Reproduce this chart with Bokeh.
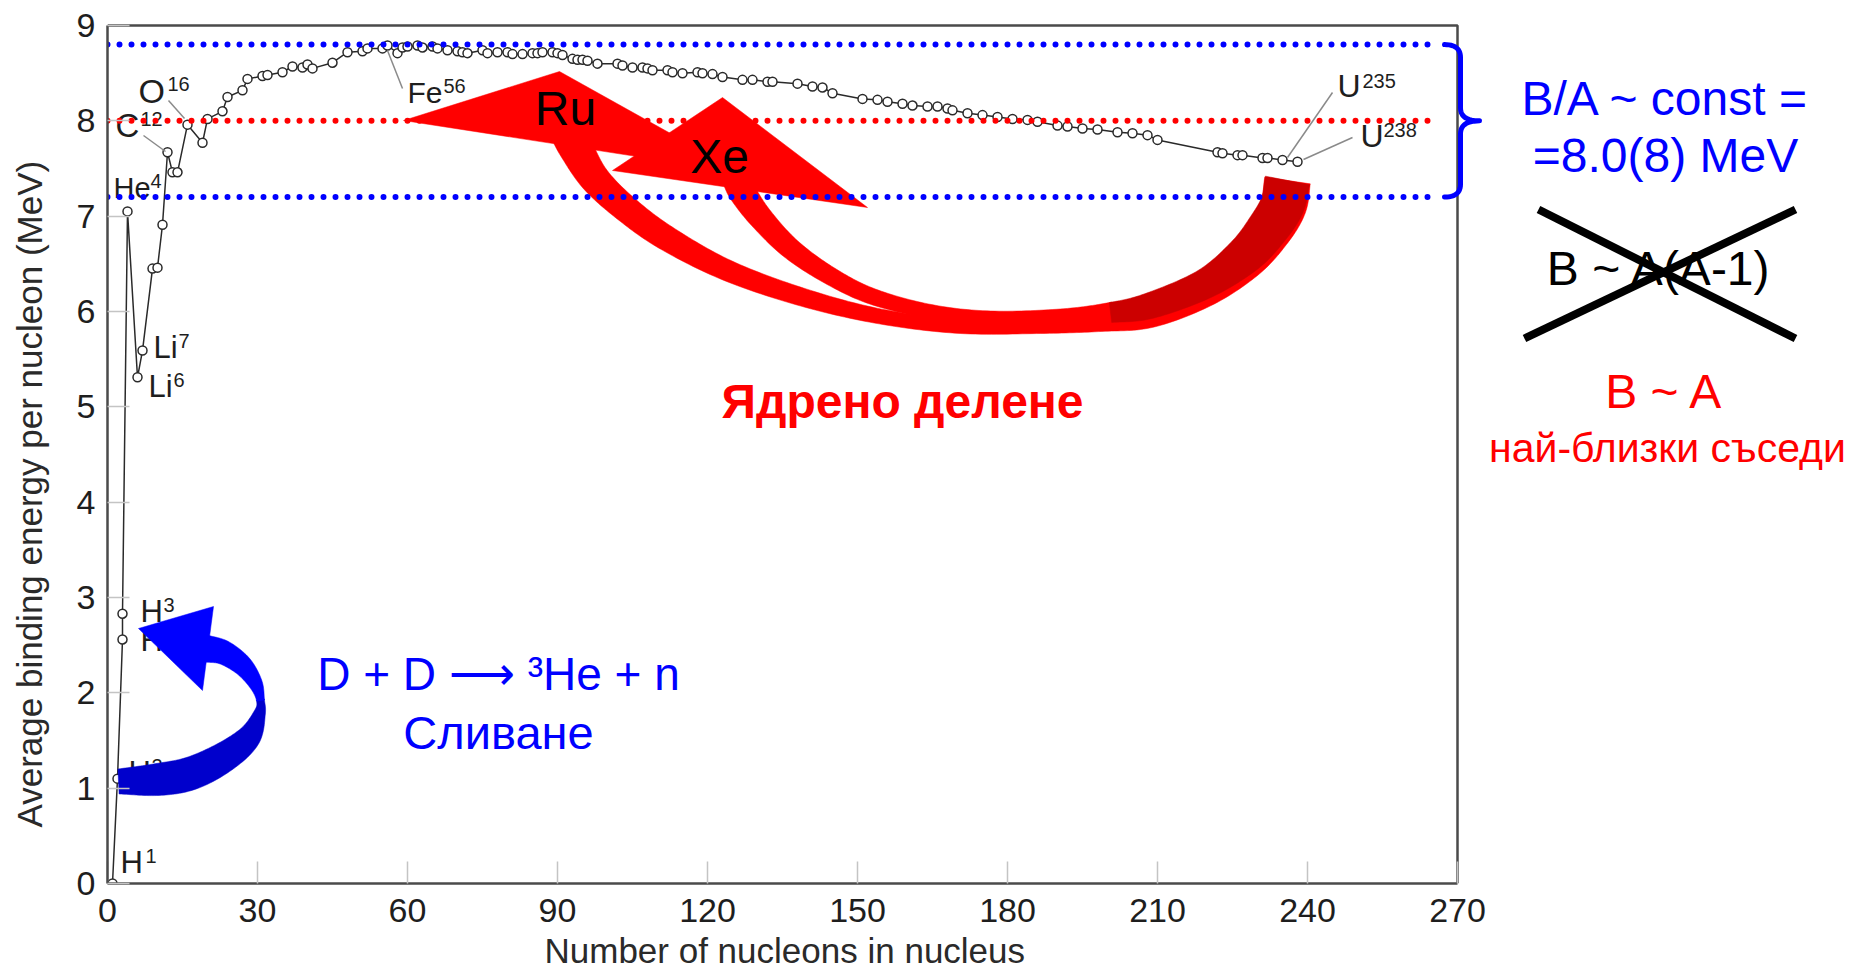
import numpy as np
from bokeh.plotting import figure
from bokeh.models import Range1d, FixedTicker, Title
from bokeh.core.properties import value
from bokeh.embed import file_html
from bokeh.resources import INLINE

# ---------------------------------------------------------------------------
# Average binding energy per nucleon (MeV) of stable nuclides vs. mass number
# ---------------------------------------------------------------------------
mass_number = [1, 2, 3, 3, 4, 6, 7, 9, 10, 11, 12, 13, 14, 16, 19, 20, 23, 24, 27, 28,
               31, 32, 35, 37, 39, 40, 41, 45, 48, 51, 52, 55, 56, 58, 59, 60, 62, 63, 65, 66,
               68, 70, 71, 72, 75, 76, 78, 80, 81, 83, 85, 86, 87, 89, 90, 91, 93, 94, 95, 96,
               98, 102, 103, 105, 107, 108, 109, 112, 113, 115, 118, 119, 121, 123, 127, 129, 132, 133, 138, 141,
               143, 145, 151, 154, 156, 159, 161, 164, 166, 168, 169, 172, 175, 178, 181, 184, 186, 190, 192, 195,
               198, 202, 205, 208, 210, 222, 223, 226, 227, 231, 232, 235, 238]
binding_energy = [0.00, 1.10, 2.56, 2.83, 7.05, 5.31, 5.59, 6.45, 6.46, 6.91, 7.67, 7.46, 7.46, 7.96, 7.77, 8.02, 8.10, 8.25, 8.32, 8.44,
                  8.47, 8.48, 8.51, 8.57, 8.56, 8.59, 8.55, 8.61, 8.72, 8.73, 8.76, 8.76, 8.79, 8.71, 8.77, 8.78, 8.79, 8.77, 8.78, 8.76,
                  8.74, 8.73, 8.72, 8.71, 8.74, 8.71, 8.72, 8.72, 8.70, 8.70, 8.71, 8.71, 8.72, 8.72, 8.71, 8.69, 8.65, 8.64, 8.64, 8.63,
                  8.60, 8.60, 8.58, 8.56, 8.56, 8.55, 8.53, 8.53, 8.51, 8.50, 8.51, 8.50, 8.49, 8.46, 8.43, 8.43, 8.41, 8.41, 8.39, 8.36,
                  8.35, 8.29, 8.23, 8.22, 8.20, 8.18, 8.16, 8.15, 8.15, 8.13, 8.11, 8.08, 8.06, 8.04, 8.02, 8.01, 7.99, 7.95, 7.94, 7.92,
                  7.91, 7.88, 7.87, 7.85, 7.80, 7.67, 7.66, 7.64, 7.64, 7.61, 7.61, 7.59, 7.57]

# labelled nuclides (symbol + mass number written as superscript)
label_symbol = ["H", "H", "H", "He", "He", "Li", "Li", "C", "O", "Fe", "U", "U"]
label_mass = ["1", "2", "3", "3", "4", "6", "7", "12", "16", "56", "235", "238"]

x_ticks = [0, 30, 60, 90, 120, 150, 180, 210, 240, 270]
y_ticks = [0, 1, 2, 3, 4, 5, 6, 7, 8, 9]

# B/A ~ const = 8.0(8) MeV : mean level and spread
ba_mean = 8.0
ba_spread = 0.8

# ---------------------------------------------------------------------------
# page geometry (pixels): axis origin and scale of the chart frame
# ---------------------------------------------------------------------------
W, H = 1874, 977
AXIS_X0, AXIS_Y0 = 107.0, 883.0        # pixel position of (A=0, E=0)
PX_PER_A = 5.0
PX_PER_MEV = 858.0 / 9.0
FRAME_L, FRAME_R, FRAME_T, FRAME_B = 107, 1864, 15, 883
BASELINE_SHIFT = 0.35                  # baseline correction, in em


def to_a(px):
    return (np.asarray(px, float) - AXIS_X0) / PX_PER_A


def to_e(py):
    return (AXIS_Y0 - np.asarray(py, float)) / PX_PER_MEV


def to_py(e):
    return AXIS_Y0 - np.asarray(e, float) * PX_PER_MEV


FONT = value("Liberation Sans")

p = figure(width=W, height=H,
           x_range=Range1d(0, float(to_a(FRAME_R))),
           y_range=Range1d(0, float(to_e(FRAME_T))),
           output_backend="svg", toolbar_location=None,
           min_border_left=FRAME_L, min_border_right=W - FRAME_R,
           min_border_top=FRAME_T, min_border_bottom=H - FRAME_B,
           background_fill_color="white", border_fill_color="white",
           outline_line_color=None)
p.grid.visible = False

for ax, ticks, bnds in ((p.xaxis[0], x_ticks, (0, 270)), (p.yaxis[0], y_ticks, (0, 9))):
    ax.ticker = FixedTicker(ticks=ticks)
    ax.bounds = bnds
    ax.axis_line_color = "#4a4a4a"
    ax.axis_line_width = 2.5
    ax.major_tick_in = 22
    ax.major_tick_out = 0
    ax.major_tick_line_color = "#c4c4c4"
    ax.major_tick_line_width = 1.5
    ax.minor_tick_line_color = None
    ax.major_label_text_font = "Liberation Sans"
    ax.major_label_text_font_size = "34px"
    ax.major_label_text_color = "#1e1e1e"
p.xaxis[0].major_label_standoff = 15
p.yaxis[0].major_label_standoff = 12
# blank spacer label: keeps room between the y tick labels and the axis title
p.yaxis[0].axis_label = " "
p.yaxis[0].axis_label_text_font_size = "1px"
p.yaxis[0].axis_label_standoff = 16

# axis titles, placed along the 0..270 and 0..9 spans
p.add_layout(Title(text="Number of nucleons in nucleus", align="left", offset=437, standoff=9,
                   text_font="Liberation Sans", text_font_size="35px", text_font_style="normal",
                   text_color="#2a2a2a"), "below")
p.add_layout(Title(text="Average binding energy per nucleon (MeV)", align="left", offset=56, standoff=10,
                   text_font="Liberation Sans", text_font_size="35px", text_font_style="normal",
                   text_color="#2a2a2a"), "left")

# top and right sides of the chart box
p.line([0, 270, 270], [9, 9, 0], line_color="#4a4a4a", line_width=2.5)

# ---------------------------------------------------------------------------
# binding-energy curve
# ---------------------------------------------------------------------------
p.line(mass_number, binding_energy, line_color="#2a2a2a", line_width=1.5)
p.scatter(mass_number, binding_energy, size=9, marker="circle",
          fill_color="white", line_color="#2a2a2a", line_width=1.5)

# leader lines of the nuclide labels (pixel layout)
leaders = [((168, 100), (184, 118)), ((143, 135), (165, 151)), ((387, 50), (402, 88)),
           ((1332, 92), (1287, 157)), ((1352, 137), (1303, 159))]
for (x0, y0), (x1, y1) in leaders:
    p.line(to_a([x0, x1]), to_e([y0, y1]), line_color="#8a8a8a", line_width=1.5)


def put_text(x, y, txt, color, size, align="left", style="normal"):
    """Text whose alphabetic baseline sits at pixel row y."""
    p.text([to_a(x)], [to_e(y - BASELINE_SHIFT * size)], text=[txt], text_font=FONT,
           text_font_size=value(f"{size}px"), text_color=color, text_align=align,
           text_baseline="alphabetic", text_font_style=style)


# label layout: symbol left/baseline, superscript left/baseline, symbol font size
label_layout = [((120, 873), (145, 862), 31), ((128, 783), (151, 772), 31),
                ((140, 622), (163, 611), 31), ((140, 651), (180, 640), 31),
                ((113, 198), (150, 187), 29), ((148, 397), (173, 386), 31),
                ((153, 358), (178, 347), 31), ((115, 137), (140, 125), 33),
                ((138, 102), (167, 90), 34), ((407, 102), (443, 92), 30),
                ((1337, 97), (1362, 87), 32), ((1360, 147), (1383, 136), 32)]
for sym, mass, ((bx, by), (sx, sy), fs) in zip(label_symbol, label_mass, label_layout):
    put_text(bx, by, sym, "#1e1e1e", fs)
    put_text(sx, sy, mass, "#1e1e1e", 20)


# ---------------------------------------------------------------------------
# curved ribbon arrows (built in pixel space, drawn in data space)
# ---------------------------------------------------------------------------
def catmull(points, n=16):
    P = np.asarray(points, float)
    P = np.vstack([2 * P[0] - P[1], P, 2 * P[-1] - P[-2]])
    t = np.linspace(0, 1, n, endpoint=False)[:, None]
    out = []
    for i in range(1, len(P) - 2):
        p0, p1, p2, p3 = P[i - 1], P[i], P[i + 1], P[i + 2]
        out.append(0.5 * (2 * p1 + (-p0 + p2) * t + (2 * p0 - 5 * p1 + 4 * p2 - p3) * t ** 2
                          + (-p0 + 3 * p1 - 3 * p2 + p3) * t ** 3))
    out.append(P[-2][None, :])
    return np.vstack(out)


def ribbon(points, widths, n=16):
    C = catmull(np.column_stack([np.asarray(points, float), np.asarray(widths, float)]), n)
    xy, w = C[:, :2], C[:, 2]
    d = np.gradient(xy, axis=0)
    d /= np.linalg.norm(d, axis=1)[:, None]
    nrm = np.column_stack([-d[:, 1], d[:, 0]])
    return xy + nrm * w[:, None] / 2, xy - nrm * w[:, None] / 2


def draw_band(left, right, i0, i1, color):
    poly = np.vstack([left[i0:i1 + 1], right[i0:i1 + 1][::-1]])
    p.patch(to_a(poly[:, 0]), to_e(poly[:, 1]), fill_color=color, line_color=color, line_width=0.5)


def draw_head(tri, color):
    tri = np.asarray(tri, float)
    p.patch(to_a(tri[:, 0]), to_e(tri[:, 1]), fill_color=color, line_color=color, line_width=0.5)


N = 16
# fission: U -> Ru
ru_path = [(566, 130), (575, 147), (594, 178), (624, 207), (665, 237), (727, 270), (803, 297),
           (880, 316), (960, 326), (1040, 325), (1100, 320), (1150, 313), (1205, 290),
           (1245, 259), (1269, 230), (1283, 205), (1287, 180)]
ru_width = [34, 34, 30, 27, 25, 21, 18, 15, 14, 16, 22, 28, 32, 40, 44, 46, 46]
L, R = ribbon(ru_path, ru_width, N)
draw_band(L, R, 0, len(L) - 1, "#FF0000")
draw_head([(403, 120), (559, 71), (740, 172)], "#FF0000")

# fission: U -> Xe
xe_path = [(735, 178), (742, 192), (760, 217), (790, 248), (829, 275), (872, 296), (930, 311),
           (990, 317), (1060, 316), (1110, 312), (1150, 305), (1205, 283), (1245, 254),
           (1268, 227), (1282, 204), (1287, 180)]
xe_width = [27, 27, 24, 21, 18, 16, 14, 13, 15, 20, 26, 30, 38, 42, 44, 45]
L, R = ribbon(xe_path, xe_width, N)
split = 9 * N
draw_band(L, R, 0, split + 1, "#FF0000")
draw_band(L, R, split, len(L) - 1, "#CC0000")
draw_head([(612, 170), (722, 97), (867, 207)], "#FF0000")

# fusion: D + D
dd_path = [(118, 781), (157, 779), (190, 773), (223, 757), (248, 737), (259, 713), (260, 700),
           (255, 683), (242, 665), (223, 652), (205, 648)]
dd_width = [25, 32, 33, 30, 24, 12, 8, 14, 20, 24, 27]
L, R = ribbon(dd_path, dd_width, N)
split = 6 * N
draw_band(L, R, 0, split + 1, "#0000CC")
draw_band(L, R, split, len(L) - 1, "#0000FF")
draw_head([(138, 628), (213, 606), (202, 690)], "#0000FF")

# ---------------------------------------------------------------------------
# B/A levels: mean and +/- spread
# ---------------------------------------------------------------------------
line_x = [0, float(to_a(1432))]
for lvl, col in ((ba_mean + ba_spread, "#0000FF"), (ba_mean, "#FF0000"), (ba_mean - ba_spread, "#0000FF")):
    p.line(line_x, [lvl, lvl], line_color=col, line_width=6, line_dash="0 12", line_cap="round")

# curly brace spanning the band
y_top, y_mid, y_bot = to_py(ba_mean + ba_spread), to_py(ba_mean), to_py(ba_mean - ba_spread)
xa, xb, xc, r = 1444.0, 1460.0, 1479.0, 13.0


def qbez(p0, p1, p2, n=14):
    t = np.linspace(0, 1, n)[:, None]
    p0, p1, p2 = (np.asarray(v, float) for v in (p0, p1, p2))
    return (1 - t) ** 2 * p0 + 2 * (1 - t) * t * p1 + t ** 2 * p2


brace = np.vstack([
    qbez((xa, y_top), (xb, y_top), (xb, y_top + r)),
    qbez((xb, y_mid - r), (xb, y_mid), (xc, y_mid)),
    qbez((xc, y_mid), (xb, y_mid), (xb, y_mid + r)),
    qbez((xb, y_bot - r), (xb, y_bot), (xa, y_bot)),
])
p.line(to_a(brace[:, 0]), to_e(brace[:, 1]), line_color="#0000FF", line_width=5,
       line_join="round", line_cap="round")

# ---------------------------------------------------------------------------
# annotation texts
# ---------------------------------------------------------------------------
put_text(565, 125, "Ru", "black", 48, align="center")
put_text(719, 173, "Xe", "black", 48, align="center")
put_text(902, 418, "Ядрено делене", "#FF0000", 48, align="center", style="bold")
put_text(498, 690, "D + D \u27f6 \u00b3He + n", "#0000FF", 46, align="center")
put_text(498, 748, "Сливане", "#0000FF", 47, align="center")

put_text(1665, 115, "B/A ~ const =", "#0000FF", 48, align="center")
put_text(1665, 172, "=8.0(8) MeV", "#0000FF", 48, align="center")
put_text(1659, 285, "B ~ A(A-1)", "black", 48, align="center")
p.line(to_a([1538, 1795]), to_e([209, 338]), line_color="black", line_width=8)
p.line(to_a([1524, 1795]), to_e([338, 209]), line_color="black", line_width=8)
put_text(1664, 408, "B ~ A", "#FF0000", 48, align="center")
put_text(1667, 462, "най-близки съседи", "#FF0000", 41, align="center")

open("out.html", "w").write(file_html(p, INLINE))
